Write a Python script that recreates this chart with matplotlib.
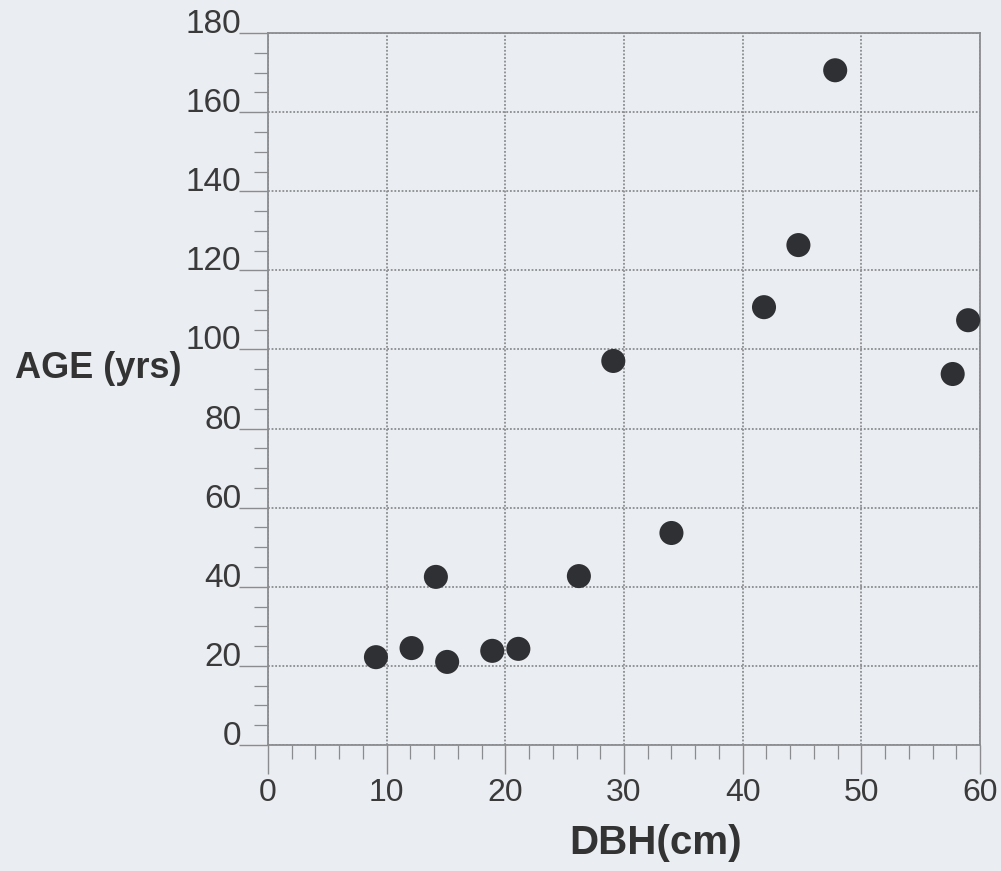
import matplotlib.pyplot as plt
from matplotlib.ticker import MultipleLocator
from matplotlib.transforms import ScaledTranslation

# tree diameter vs age
dbh_cm = [9.1, 12.1, 14.15, 15.1, 18.9, 21.1, 26.2, 29.1, 34.0, 41.8, 44.7, 47.8, 57.7, 59.0]
age_yrs = [22.2, 24.5, 42.5, 21.0, 23.8, 24.3, 42.7, 97.1, 53.6, 110.7, 126.4, 170.6, 93.8, 107.4]

x_ticks = [0, 10, 20, 30, 40, 50, 60]
y_ticks = [0, 20, 40, 60, 80, 100, 120, 140, 160, 180]

bg = "#eaedf1"
grid_col = "#8a8c8f"
font = ["Liberation Sans", "DejaVu Sans"]
plt.rcParams["font.family"] = font

fig = plt.figure(figsize=(10.01, 8.71), dpi=100, facecolor=bg)
ax = fig.add_axes([0.2677, 0.1447, 0.7113, 0.8173])
ax.set_facecolor(bg)

ax.scatter(dbh_cm, age_yrs, s=300, color="#2f3033", edgecolors="none", zorder=3, clip_on=False)

ax.set_xlim(0, 60)
ax.set_ylim(0, 180)
ax.set_xticks(x_ticks)
ax.set_yticks(y_ticks)
ax.xaxis.set_minor_locator(MultipleLocator(2))
ax.yaxis.set_minor_locator(MultipleLocator(5))

ax.grid(True, which="major", color=grid_col, linestyle=(0, (1, 1)), linewidth=1.3)
ax.set_axisbelow(True)
for sp in ax.spines.values():
    sp.set_color(grid_col)
    sp.set_linestyle((0, (1, 1)))
    sp.set_linewidth(1.3)

ax.tick_params(which="major", direction="out", length=21, width=1.0, color=grid_col,
               labelcolor="#3a3a3a")
ax.tick_params(which="minor", direction="out", length=10, width=0.9, color=grid_col)
ax.tick_params(axis="x", which="major", labelsize=23, pad=3)
ax.tick_params(axis="y", which="major", labelsize=24, pad=6)

# y labels sit a little above and closer to their grid lines in the original
shift = ScaledTranslation(11 / 100, 12 / 100, fig.dpi_scale_trans)
for lab in ax.get_yticklabels():
    lab.set_transform(lab.get_transform() + shift)

fig.text(0.015, 1 - 368 / 871, "AGE (yrs)", ha="left", va="center",
         fontsize=26, fontweight="bold", color="#333333")
fig.text(656 / 1001, 1 - 843 / 871, "DBH(cm)", ha="center", va="center",
         fontsize=29, fontweight="bold", color="#333333")

fig.savefig("out.png", dpi=100, facecolor=bg)
